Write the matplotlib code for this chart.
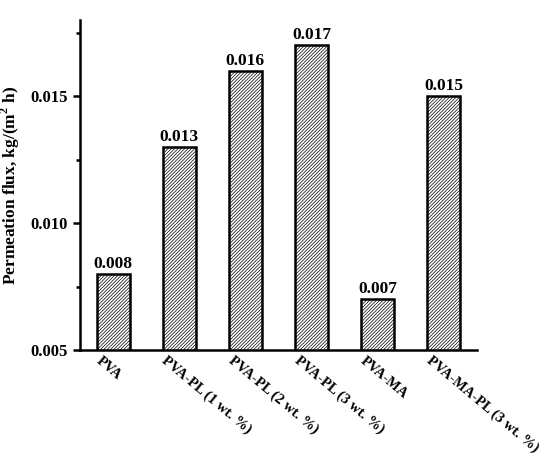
import matplotlib.pyplot as plt
from matplotlib.ticker import MultipleLocator

plt.rcParams['font.family'] = ['Liberation Serif', 'DejaVu Serif']
plt.rcParams['font.weight'] = 'bold'
plt.rcParams['mathtext.fontset'] = 'custom'
plt.rcParams['mathtext.rm'] = 'Liberation Serif:bold'
plt.rcParams['mathtext.bf'] = 'Liberation Serif:bold'
plt.rcParams['hatch.linewidth'] = 0.5

# data
samples = ['PVA', 'PVA-PL (1 wt. %)', 'PVA-PL (2 wt. %)', 'PVA-PL (3 wt. %)',
           'PVA-MA', 'PVA-MA-PL (3 wt. %)']
flux = [0.008, 0.013, 0.016, 0.017, 0.007, 0.015]
flux_labels = ['0.008', '0.013', '0.016', '0.017', '0.007', '0.015']

fig = plt.figure(figsize=(5.5, 4.59), dpi=100)
ax = fig.add_axes([0.1455, 0.2375, 0.7215, 0.719])

x = range(len(samples))
bars = ax.bar(x, flux, width=0.5, bottom=0, color='white', edgecolor='black',
              linewidth=1.8, hatch='/' * 10)

for xi, v, lab in zip(x, flux, flux_labels):
    ax.text(xi, v + 0.00008, lab, ha='center', va='bottom', fontsize=12.5, fontweight='bold')

ax.set_xlim(-0.5, 5.5)
ax.set_ylim(0.005, 0.018)
ax.yaxis.set_major_locator(MultipleLocator(0.005))
ax.yaxis.set_minor_locator(MultipleLocator(0.0025))
ax.yaxis.set_major_formatter(plt.FormatStrFormatter('%.3f'))

# slanted category labels
ax.set_xticks(list(x))
ax.set_xticklabels([])
for xi, name in zip(x, samples):
    ax.annotate(name, xy=(xi, 0), xycoords=('data', 'axes fraction'),
                xytext=(-8, -3), textcoords='offset points',
                rotation=-40, rotation_mode='anchor', ha='left', va='top',
                fontsize=10.5, fontweight='bold', annotation_clip=False)

ax.tick_params(axis='x', length=0)
ax.tick_params(axis='y', which='major', direction='out', length=5, width=1.8, labelsize=12)
ax.tick_params(axis='y', which='minor', direction='out', length=3, width=1.8)

for s in ['top', 'right']:
    ax.spines[s].set_visible(False)
for s in ['left', 'bottom']:
    ax.spines[s].set_linewidth(1.8)

ax.set_ylabel('Permeation flux, kg/(m$^\\mathbf{2}$ h)', fontsize=12.5, fontweight='bold')
ax.yaxis.set_label_coords(-0.145, 0.5)

fig.savefig('out.png', dpi=100)
